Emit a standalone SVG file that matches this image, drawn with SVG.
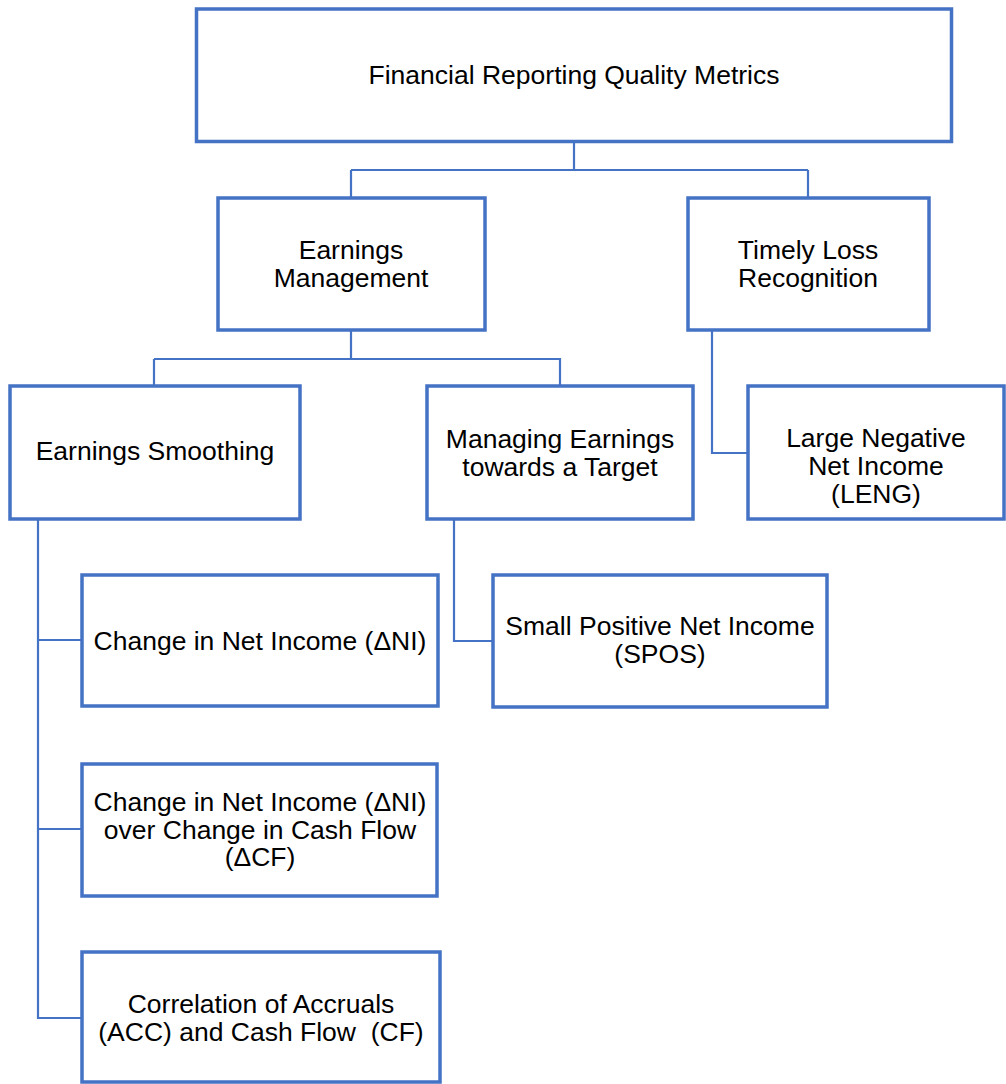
<svg xmlns="http://www.w3.org/2000/svg" width="1006" height="1084" viewBox="0 0 1006 1084">
<style>
.box{fill:#ffffff;stroke:#4472C4;stroke-width:3.5}
.con{fill:none;stroke:#4472C4;stroke-width:2.2}
text{font-family:"Liberation Sans",Arial,sans-serif;font-size:26.5px;fill:#000;text-anchor:middle}
</style>
<rect width="1006" height="1084" fill="#ffffff"/>
<g id="connectors">
<path class="con" d="M574,141 V170 M351,170 H808 M351,170 V198 M808,170 V198"/>
<path class="con" d="M351,330 V359 H560 V386 M154,359 H351 M154,359 V386"/>
<path class="con" d="M712,330 V453 H748"/>
<path class="con" d="M454,519 V641 H493"/>
<path class="con" d="M38,519 V1018 H82 M38,640 H82 M38,829 H82"/>
</g>
<g id="n-root"><rect class="box" x="196.5" y="9" width="755" height="132.5"/><text x="574" y="84">Financial Reporting Quality Metrics</text></g>
<g id="n-em"><rect class="box" x="218" y="198" width="267" height="132"/><text x="351" y="259">Earnings</text><text x="351" y="287">Management</text></g>
<g id="n-tlr"><rect class="box" x="688" y="198" width="241" height="132"/><text x="808" y="259">Timely Loss</text><text x="808" y="287">Recognition</text></g>
<g id="n-es"><rect class="box" x="10" y="386" width="290" height="133"/><text x="155" y="460">Earnings Smoothing</text></g>
<g id="n-met"><rect class="box" x="427" y="386" width="266" height="133"/><text x="560" y="448">Managing Earnings</text><text x="560" y="476">towards a Target</text></g>
<g id="n-leng"><rect class="box" x="748" y="386" width="256" height="133"/><text x="876" y="447">Large Negative</text><text x="876" y="475">Net Income</text><text x="876" y="503">(LENG)</text></g>
<g id="n-dni"><rect class="box" x="82" y="575" width="356" height="131"/><text x="260" y="650">Change in Net Income (ΔNI)</text></g>
<g id="n-spos"><rect class="box" x="493" y="575" width="334" height="132"/><text x="660" y="635">Small Positive Net Income</text><text x="660" y="663">(SPOS)</text></g>
<g id="n-dnicf"><rect class="box" x="82" y="764" width="355" height="132"/><text x="260" y="811">Change in Net Income (ΔNI)</text><text x="260" y="839">over Change in Cash Flow</text><text x="260" y="866">(ΔCF)</text></g>
<g id="n-acc"><rect class="box" x="82" y="952" width="358" height="130"/><text x="261" y="1013">Correlation of Accruals</text><text x="261" y="1041" xml:space="preserve">(ACC) and Cash Flow  (CF)</text></g>
</svg>
